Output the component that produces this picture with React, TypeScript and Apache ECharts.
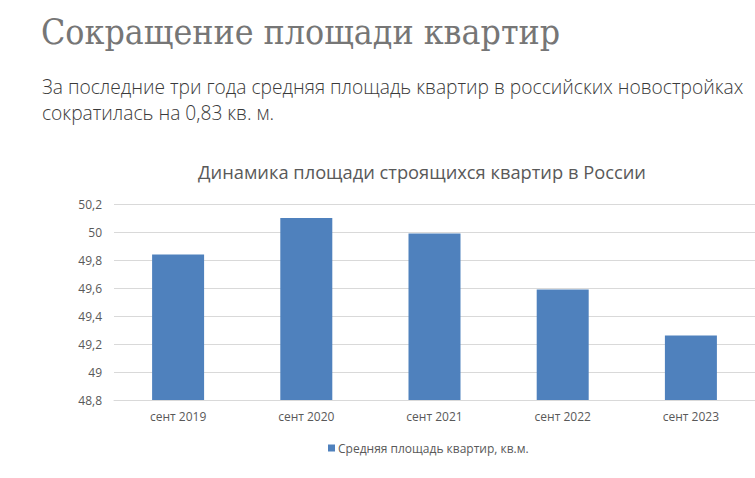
import React, { useEffect, useRef } from "react";
import * as echarts from "echarts";

const categories = ["сент 2019", "сент 2020", "сент 2021", "сент 2022", "сент 2023"];
const seriesName = "Средняя площадь квартир, кв.м.";
const values = [49.84, 50.1, 49.99, 49.59, 49.26];
const pageTitle = "Сокращение площади квартир";
const subtitleLines = [
  "За последние три года средняя площадь квартир в российских новостройках",
  "сократилась на 0,83 кв. м.",
];
const chartTitle = "Динамика площади строящихся квартир в России";

export default function App() {
  const ref = useRef<HTMLDivElement>(null);
  useEffect(() => {
    if (!ref.current) return;
    const chart = echarts.init(ref.current, undefined, { renderer: "svg" });
    chart.setOption({
      animation: false,
      backgroundColor: "#ffffff",
      title: {
        text: chartTitle,
        left: 417,
        textAlign: "center",
        top: 157,
        textStyle: { fontFamily: "Open Sans", fontSize: 18.3, fontWeight: "normal", color: "#595959" },
      },
      graphic: [
        {
          type: "text",
          left: 41,
          top: 14,
          style: { text: pageTitle, fontFamily: "DejaVu Serif Condensed", fontSize: 35.4, fill: "#767676" },
        },
        {
          type: "text",
          left: 42,
          top: 74,
          style: {
            text: subtitleLines.join("\n"),
            fontFamily: "Open Sans",
            fontWeight: 300,
            fontSize: 19.2,
            lineHeight: 25.5,
            fill: "#3a3a3a",
          },
        },
      ],
      legend: {
        data: [seriesName],
        left: 323,
        top: 437,
        icon: "rect",
        itemWidth: 7,
        itemHeight: 7,
        itemGap: 3,
        textStyle: { fontFamily: "Open Sans", fontSize: 12, color: "#595959", padding: [0, 0, 0, -2] },
      },
      grid: { left: 114, right: -6, top: 204, bottom: 78, containLabel: false },
      xAxis: {
        type: "category",
        data: categories,
        axisLine: { show: true, lineStyle: { color: "#d9d9d9" } },
        axisTick: { show: false },
        axisLabel: { fontFamily: "Open Sans", fontSize: 12, color: "#595959", margin: 10 },
      },
      yAxis: {
        type: "value",
        min: 48.8,
        max: 50.2,
        interval: 0.2,
        axisLine: { show: false },
        axisTick: { show: false },
        splitLine: { lineStyle: { color: "#d9d9d9" } },
        axisLabel: {
          fontFamily: "Open Sans",
          fontSize: 12,
          color: "#595959",
          margin: 12,
          formatter: (v: number) => {
            const s = (Math.round(v * 10) / 10).toFixed(1);
            return (s.endsWith(".0") ? s.slice(0, -2) : s).replace(".", ",");
          },
        },
      },
      series: [
        {
          name: seriesName,
          type: "bar",
          data: values,
          barWidth: 52,
          itemStyle: { color: "#4f81bd" },
        },
      ],
    });
    return () => chart.dispose();
  }, []);
  return (
    <div
      ref={ref}
      style={{ position: "absolute", left: 0, top: 0, width: 755, height: 478 }}
    />
  );
}
